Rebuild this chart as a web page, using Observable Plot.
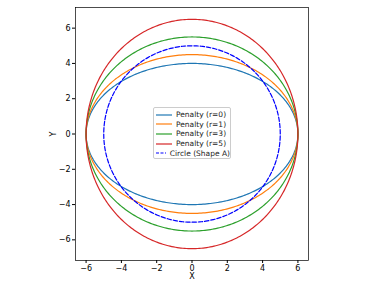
<!DOCTYPE html>
<html><head><meta charset="utf-8">
<script src="https://cdn.jsdelivr.net/npm/d3@7"></script>
<script src="https://cdn.jsdelivr.net/npm/@observablehq/plot@0.6"></script>
<style>
body{margin:0;background:#fff;font-family:"DejaVu Sans",sans-serif;}
#wrap{position:relative;width:384px;height:288px;}
#legend{position:absolute;left:153px;top:107px;width:78px;height:52px;box-sizing:border-box;border:0.7px solid #ccc;border-radius:2px;background:rgba(255,255,255,0.8);font-size:7.5px;color:#222;padding:2px 0 0 2px;}
#legend .row{display:flex;align-items:center;height:9.6px;white-space:nowrap;}
#legend svg{margin-right:4px;}
</style></head>
<body><div id="wrap"><div id="chart"></div><div id="legend"></div></div>
<script>
const seriesNames = ["Penalty (r=0)", "Penalty (r=1)", "Penalty (r=3)", "Penalty (r=5)"];
const semiAxisX = [6, 6, 6, 6];
const semiAxisY = [4, 4.5, 5.5, 6.5];
const seriesColors = ["#1f77b4", "#ff7f0e", "#2ca02c", "#d62728"];
const circleName = "Circle (Shape A)";
const circleRadius = 5;
const circleColor = "#0000ff";
const xTicks = [-6, -4, -2, 0, 2, 4, 6];
const yTicks = [-6, -4, -2, 0, 2, 4, 6];
const xLabel = "X";
const yLabel = "Y";

const N = 360;
const curves = [];
seriesNames.forEach((name, i) => {
  for (let k = 0; k <= N; k++) {
    const t = 2 * Math.PI * k / N;
    curves.push({name, x: semiAxisX[i] * Math.cos(t), y: semiAxisY[i] * Math.sin(t)});
  }
});
const circle = [];
for (let k = 0; k <= N; k++) {
  const t = 2 * Math.PI * k / N;
  circle.push({x: circleRadius * Math.cos(t), y: circleRadius * Math.sin(t)});
}
const fmt = d => d < 0 ? "\u2212" + Math.abs(d) : String(d);

const chart = Plot.plot({
  width: 384, height: 288,
  marginLeft: 75, marginRight: 76, marginTop: 7, marginBottom: 28,
  style: {fontFamily: "DejaVu Sans, sans-serif", fontSize: "8px", color: "#000", background: "#fff"},
  x: {domain: [-6.6, 6.6], label: null},
  y: {domain: [-7.17, 7.17], label: null},
  color: {domain: seriesNames, range: seriesColors},
  marks: [
    Plot.line(curves, {x: "x", y: "y", z: "name", stroke: "name", strokeWidth: 1.2}),
    Plot.line(circle, {x: "x", y: "y", stroke: circleColor, strokeWidth: 1.2, strokeDasharray: "4.4,1.9"}),
    Plot.axisX({ticks: xTicks, tickSize: 3, tickPadding: 2, tickFormat: fmt, label: null}),
    Plot.axisY({ticks: yTicks, tickSize: 3, tickPadding: 2, tickFormat: fmt, label: null}),
    Plot.frame({stroke: "#000", strokeWidth: 0.7}),
    Plot.text([xLabel], {frameAnchor: "bottom", dy: 16, lineAnchor: "middle", fontSize: 8, text: d => d}),
    Plot.text([yLabel], {frameAnchor: "left", dx: -22, textAnchor: "middle", lineAnchor: "middle", fontSize: 8, text: d => d, rotate: -90})
  ]
});
document.getElementById("chart").appendChild(chart);

const legend = document.getElementById("legend");
const items = seriesNames.map((n, i) => ({name: n, color: seriesColors[i], dash: null}))
  .concat([{name: circleName, color: circleColor, dash: "3,1.5"}]);
items.forEach(it => {
  const row = document.createElement("div");
  row.className = "row";
  row.innerHTML = `<svg width="16" height="4"><line x1="0" y1="2" x2="16" y2="2" stroke="${it.color}" stroke-width="1.2" ${it.dash ? `stroke-dasharray="${it.dash}"` : ""}/></svg><span>${it.name}</span>`;
  legend.appendChild(row);
});
</script>
</body></html>
